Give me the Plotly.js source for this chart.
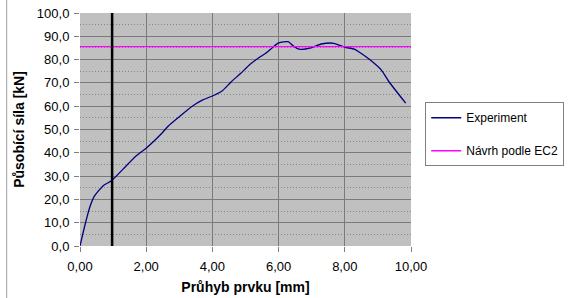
<!DOCTYPE html>
<html>
<head>
<meta charset="utf-8">
<script src="https://cdn.plot.ly/plotly-3.0.1.min.js"></script>
<style>html,body{margin:0;padding:0;background:#fff;}#chart{width:576px;height:298px;}</style>
</head>
<body>
<div id="chart"></div>
<script>
// Experiment: deflection [mm] vs force [kN]
var expX = [0.00, 0.15, 0.29, 0.43, 0.71, 0.95, 1.30, 1.71, 2.00, 2.48, 2.67, 3.00, 3.38, 3.71, 4.05, 4.29, 4.57, 4.85, 5.14, 5.40, 5.62, 5.80, 6.00, 6.29, 6.45, 6.62, 6.95, 7.29, 7.67, 8.00, 8.29, 8.50, 8.76, 9.10, 9.33, 9.84];
var expY = [0.0, 9.0, 16.4, 21.3, 26.0, 28.0, 33.0, 38.8, 42.0, 48.5, 51.5, 55.5, 59.9, 62.7, 64.7, 66.5, 70.5, 74.0, 78.0, 80.8, 82.8, 85.0, 87.2, 87.7, 85.8, 84.5, 84.9, 86.7, 87.0, 85.3, 84.5, 82.6, 79.9, 75.6, 70.6, 61.3];
// Design value according to EC2
var ecX = [0, 10];
var ecY = [85.6, 85.6];
// Vertical marker line position [mm]
var markerX = 0.97;
var xTickVals = [0, 2, 4, 6, 8, 10];
var xTickText = ["0,00", "2,00", "4,00", "6,00", "8,00", "10,00"];
var yTickVals = [0, 10, 20, 30, 40, 50, 60, 70, 80, 90, 100];
var yTickText = ["0,0", "10,0", "20,0", "30,0", "40,0", "50,0", "60,0", "70,0", "80,0", "90,0", "100,0"];

var font = "Liberation Sans, Arial, sans-serif";
var traces = [
  {x: expX, y: expY, type: "scatter", mode: "lines", name: "Experiment",
   line: {color: "#000080", width: 1.3, shape: "spline", smoothing: 0.6}, legendgroup: "a"},
  {x: ecX, y: ecY, type: "scatter", mode: "lines", name: "Návrh podle EC2",
   line: {color: "#FF00FF", width: 1.3}, legendgroup: "b"}
];
var layout = {
  width: 576, height: 298,
  margin: {l: 80, r: 146, t: 13, b: 52},
  paper_bgcolor: "#ffffff",
  plot_bgcolor: "#C0C0C0",
  font: {family: font, size: 13, color: "#000"},
  showlegend: true,
  legend: {x: 1.043, y: 0.617, xanchor: "left", yanchor: "top",
    bordercolor: "#808080", borderwidth: 1, bgcolor: "#fff",
    font: {family: font, size: 12, color: "#000"},
    traceorder: "grouped", tracegroupgap: 14, itemwidth: 30},
  xaxis: {range: [0, 10], tickvals: xTickVals, ticktext: xTickText,
    showgrid: true, gridcolor: "#7a7a7a", gridwidth: 1, zeroline: false,
    ticks: "outside", ticklen: 5, tickcolor: "#808080", ticklabelstandoff: 3,
    showline: false, fixedrange: true,
    tickfont: {family: font, size: 13},
    title: {text: "<b>Průhyb prvku [mm]</b>", font: {family: font, size: 14}, standoff: 9}},
  yaxis: {range: [0, 100], tickvals: yTickVals, ticktext: yTickText,
    showgrid: true, gridcolor: "#7a7a7a", gridwidth: 1, zeroline: false,
    ticks: "outside", ticklen: 5, tickcolor: "#808080", ticklabelstandoff: 2,
    minor: {dtick: 5, tick0: 0, showgrid: true, gridcolor: "#858585", griddash: "1px,2px", gridwidth: 1, ticks: ""},
    showline: false, fixedrange: true,
    tickfont: {family: font, size: 13},
    title: {text: "<b>Působící síla [kN]</b>", font: {family: font, size: 14}, standoff: 8}},
  shapes: [
    {type: "line", xref: "x", yref: "y", x0: markerX, x1: markerX, y0: 0, y1: 100,
     line: {color: "#000", width: 2.5}},
    {type: "line", xref: "paper", yref: "paper", x0: -0.2214, x1: -0.2214, y0: -0.23, y1: 1.06,
     line: {color: "#a0a0a0", width: 1}}
  ]
};
Plotly.newPlot("chart", traces, layout, {displayModeBar: false, staticPlot: true});
</script>
</body>
</html>
